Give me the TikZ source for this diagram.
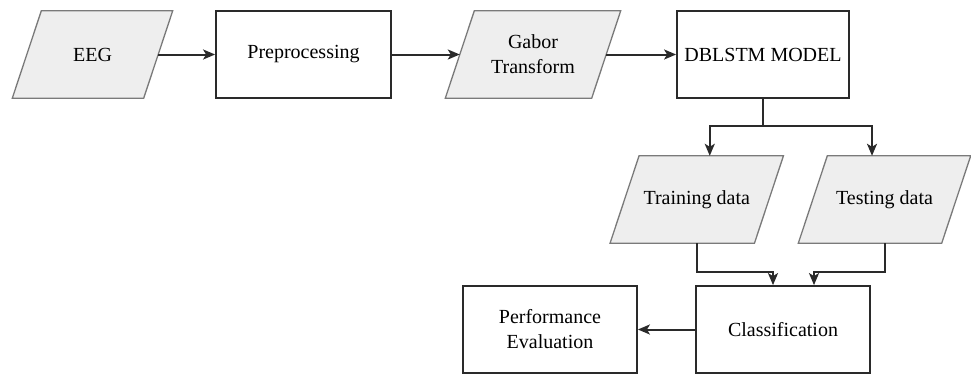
\documentclass[tikz,border=0pt]{standalone}
\usepackage{fontspec}
\setmainfont{Liberation Serif}
\usetikzlibrary{arrows.meta,backgrounds}
\definecolor{parafill}{HTML}{EEEEEE}
\definecolor{paraline}{HTML}{7A7A7A}
\definecolor{boxline}{HTML}{2A2A2A}
\tikzset{
  every node/.style={font=\fontsize{20}{25}\selectfont, align=center, inner sep=0pt},
  procbox/.style={draw=boxline, line width=1.8pt, minimum width=174pt, minimum height=87pt},
  iobox/.style={minimum height=87pt},
  paraedge/.style={fill=parafill, draw=paraline, line width=1.3pt},
  arr/.style={draw=boxline, line width=2pt, -{Stealth[length=12pt,width=10pt,inset=3pt]}},
}
\newcommand{\paradraw}[1]{%
  \path[paraedge] ([xshift=14.5pt]#1.north west) -- ([xshift=14.5pt]#1.north east)
    -- ([xshift=-14.5pt]#1.south east) -- ([xshift=-14.5pt]#1.south west) -- cycle;}
\begin{document}
\begin{tikzpicture}[x=1pt,y=-1pt]
\useasboundingbox (0,0) rectangle (971,375);
% input/output shapes
\node[iobox, minimum width=131pt] (eeg) at (92.5,54.5) {EEG};
\node[iobox, minimum width=146pt] (gab) at (533,54.5) {Gabor\\Transform};
\node[iobox, minimum width=144pt] (train) at (696.75,199.5) {Training data};
\node[iobox, minimum width=143pt] (test) at (884.5,199.5) {Testing data};
\begin{scope}[on background layer]
  \paradraw{eeg}
  \paradraw{gab}
  \paradraw{train}
  \paradraw{test}
\end{scope}
% process boxes
\node[procbox, minimum width=175pt] (pre) at (303.5,54.5) {Preprocessing};
\node[procbox, minimum width=172pt] (dbl) at (763,54.5) {DBLSTM MODEL};
\node[procbox] (cls) at (783,329.5) {Classification};
\node[procbox] (perf) at (550,329.5) {Performance\\Evaluation};
% connectors
\draw[arr] (eeg.east) -- (pre.west);
\draw[arr] (pre.east) -- (gab.west);
\draw[arr] (gab.east) -- (dbl.west);
\draw[arr] (dbl.south) -- ++(0,27) -| ([xshift=13pt]train.north);
\draw[arr] (dbl.south) -- ++(0,27) -| ([xshift=-12.5pt]test.north);
\draw[arr] (train.south) -- ++(0,29) -| ([xshift=-10pt]cls.north);
\draw[arr] (test.south) -- ++(0,29) -| ([xshift=31pt]cls.north);
\draw[arr] (cls.west) -- (perf.east);
\end{tikzpicture}
\end{document}
